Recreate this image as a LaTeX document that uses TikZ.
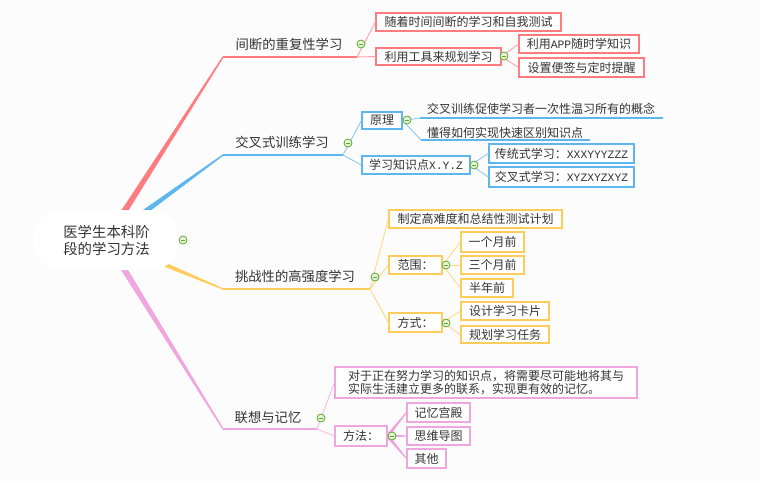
\documentclass[tikz,border=0pt]{standalone}
\usepackage{fontspec}
\setmainfont{Noto Sans CJK SC}
\newfontfamily\monof{Liberation Mono}
\usetikzlibrary{calc}
\definecolor{bg}{HTML}{FCFCFC}
\definecolor{txt}{HTML}{333333}
\definecolor{cred}{HTML}{FF7B7F}
\definecolor{credl}{HTML}{FFA3A6}
\definecolor{cblue}{HTML}{5DB7EE}
\definecolor{cbluel}{HTML}{8ECCF3}
\definecolor{cyel}{HTML}{FFCC5C}
\definecolor{cyell}{HTML}{FFD98A}
\definecolor{cpink}{HTML}{EFA5DD}
\definecolor{cpinkl}{HTML}{F4BFE6}
\definecolor{cgreen}{HTML}{5FA62E}
\definecolor{cgreenl}{HTML}{E6F4D8}
\newcommand\lmono[1]{{\monof\fontsize{8.5}{11}\selectfont #1}}
\newcommand\mytaper[5]{%
  \fill[#1] ($(#2)!#4!90:(#3)$) -- ($(#3)!#5!-90:(#2)$) -- ($(#3)!#5!90:(#2)$) -- ($(#2)!#4!-90:(#3)$) -- cycle;}
\begin{document}
\begin{tikzpicture}[x=0.75pt,y=-0.75pt,
  box/.style={draw=#1, line width=0.9pt, fill=white, text=txt, font=\fontsize{9}{11}\selectfont, inner sep=0pt},
  bx/.style 2 args={minimum width=#1*0.75pt, minimum height=#2*0.75pt},
  topic/.style={text=txt, font=\fontsize{10}{12}\selectfont, inner sep=0pt},
  ultext/.style={text=txt, font=\fontsize{9}{11}\selectfont, inner sep=0pt},
  conn/.style={draw=#1, line width=0.7pt},
  uline/.style={draw=#1, line width=0.9pt},
  circ/.style={circle, draw=cgreen, fill=cgreenl, line width=0.6pt, minimum size=6pt, inner sep=0pt,
    path picture={\draw[cgreen, line width=0.7pt] ([xshift=-1.8pt]path picture bounding box.center) -- ([xshift=1.8pt]path picture bounding box.center);}}
]
\useasboundingbox (0,0) rectangle (760,482);
\fill[bg] (0,0) rectangle (760,482);

% root centre and branch starts
\coordinate (rc) at (106,240);
\coordinate (t1s) at (223,57);  \coordinate (t1e) at (357,57);
\coordinate (t2s) at (223,155); \coordinate (t2e) at (343,155);
\coordinate (t3s) at (223,289); \coordinate (t3e) at (370,289);
\coordinate (t4s) at (223,429); \coordinate (t4e) at (317,429);

\mytaper{cred}{rc}{t1s}{2.6pt}{0.5pt}
\mytaper{cblue}{rc}{t2s}{2.6pt}{0.5pt}
\mytaper{cyel}{rc}{t3s}{2.6pt}{0.5pt}
\mytaper{cpink}{rc}{t4s}{2.6pt}{0.5pt}

\node[fill=white, rounded corners=22pt, minimum width=147*0.75pt, minimum height=60*0.75pt,
  align=center, text=txt, font=\fontsize{10.8}{12.75}\selectfont, inner sep=0pt] (root) at (106.5,240) {医学生本科阶\\段的学习方法};

% main topics
\node[topic] (t1) at (289,44) {间断的重复性学习};
\node[topic] (t2) at (282,142.5) {交叉式训练学习};
\node[topic] (t3) at (295,276.5) {挑战性的高强度学习};
\node[topic] (t4) at (268,417.5) {联想与记忆};
\draw[uline=cred] (t1s) -- (t1e);
\draw[uline=cblue] (t2s) -- (t2e);
\draw[uline=cyel] (t3s) -- (t3e);
\draw[uline=cpink] (t4s) -- (t4e);

% red branch
\node[box=cred, bx={185}{18}] (b1) at (468.5,22) {随着时间间断的学习和自我测试};
\node[box=cred, bx={125}{17}] (b2) at (438.5,56.5) {利用工具来规划学习};
\node[box=cred, bx={120}{18}] (b21) at (579,44) {利用\lmono{APP}随时学知识};
\node[box=cred, bx={125}{19}] (b22) at (581.5,67.5) {设置便签与定时提醒};
\draw[conn=credl] (t1e) -- (b1.west);
\draw[conn=credl] (t1e) -- (b2.west);
\draw[conn=credl] (b2.east) -- (b21.west);
\draw[conn=credl] (b2.east) -- (b22.west);

% blue branch
\node[box=cblue, bx={40}{17}] (yl) at (382,120.5) {原理};
\node[box=cblue, bx={108}{18}] (xyz) at (416,165) {学习知识点\lmono{X.Y.Z}};
\node[box=cblue, bx={145}{19}] (c1) at (561.5,153.5) {传统式学习：\lmono{XXXYYYZZZ}};
\node[box=cblue, bx={145}{20}] (c2) at (561.5,177) {交叉式学习：\lmono{XYZXYZXYZ}};
\node[ultext] (u1) at (541,108.5) {交叉训练促使学习者一次性温习所有的概念};
\node[ultext] (u2) at (505,132.5) {懂得如何实现快速区别知识点};
\coordinate (u1s) at (420,118); \coordinate (u1e) at (663,118);
\coordinate (u2s) at (421,140); \coordinate (u2e) at (590,140);
\draw[uline=cblue] (u1s) -- (u1e);
\draw[uline=cblue] (u2s) -- (u2e);
\draw[conn=cbluel] (t2e) -- (yl.west);
\draw[conn=cbluel] (t2e) -- (xyz.west);
\draw[conn=cbluel] (yl.east) -- (u1s);
\draw[conn=cbluel] (yl.east) -- (u2s);
\draw[conn=cbluel] (xyz.east) -- (c1.west);
\draw[conn=cbluel] (xyz.east) -- (c2.west);

% yellow branch
\node[box=cyel, bx={173}{18}] (y1) at (475.5,219) {制定高难度和总结性测试计划};
\node[box=cyel, bx={53}{18}] (y2) at (415.5,265) {范围：};
\node[box=cyel, bx={53}{19}] (y3) at (415.5,322.5) {方式：};
\node[box=cyel, bx={63}{20}] (y21) at (492.5,242) {一个月前};
\node[box=cyel, bx={63}{18}] (y22) at (492.5,265) {三个月前};
\node[box=cyel, bx={52}{18}] (y23) at (487,288) {半年前};
\node[box=cyel, bx={88}{18}] (y31) at (505,311) {设计学习卡片};
\node[box=cyel, bx={88}{17}] (y32) at (505,334.5) {规划学习任务};
\draw[conn=cyell] (t3e) -- (y1.west);
\draw[conn=cyell] (t3e) -- (y2.west);
\draw[conn=cyell] (t3e) -- (y3.west);
\draw[conn=cyell] (y2.east) -- (y21.west);
\draw[conn=cyell] (y2.east) -- (y22.west);
\draw[conn=cyell] (y2.east) -- (y23.west);
\draw[conn=cyell] (y3.east) -- (y31.west);
\draw[conn=cyell] (y3.east) -- (y32.west);

% pink branch
\node[box=cpink, bx={302}{31}, align=left] (p1) at (486,382.5) {对于正在努力学习的知识点，将需要尽可能地将其与\\[-1.2pt]实际生活建立更多的联系，实现更有效的记忆。};
\node[box=cpink, bx={52}{20}] (p2) at (361,436) {方法：};
\node[box=cpink, bx={63}{19}] (p21) at (438.5,412.5) {记忆宫殿};
\node[box=cpink, bx={63}{18}] (p22) at (438.5,436) {思维导图};
\node[box=cpink, bx={39}{19}] (p23) at (426.5,458.5) {其他};
\draw[conn=cpinkl] (t4e) -- (p1.west);
\draw[conn=cpinkl] (t4e) -- (p2.west);
\mytaper{cpink}{p2.east}{p21.west}{1.3pt}{0.4pt}
\mytaper{cpink}{p2.east}{p22.west}{1.3pt}{0.4pt}
\mytaper{cpink}{p2.east}{p23.west}{1.3pt}{0.4pt}

% collapse markers
\node[circ] (k0) at (183,240) {};
\node[circ] (k1) at (361,44) {};
\node[circ] (k2) at (504,56) {};
\node[circ] (k3) at (348,143) {};
\node[circ] (k4) at (407,120) {};
\node[circ] (k5) at (474,165) {};
\node[circ] (k6) at (375,277) {};
\node[circ] (k7) at (446,265) {};
\node[circ] (k8) at (446,323) {};
\node[circ] (k9) at (321,418) {};
\node[circ] (k10) at (392,436) {};
\end{tikzpicture}
\end{document}
